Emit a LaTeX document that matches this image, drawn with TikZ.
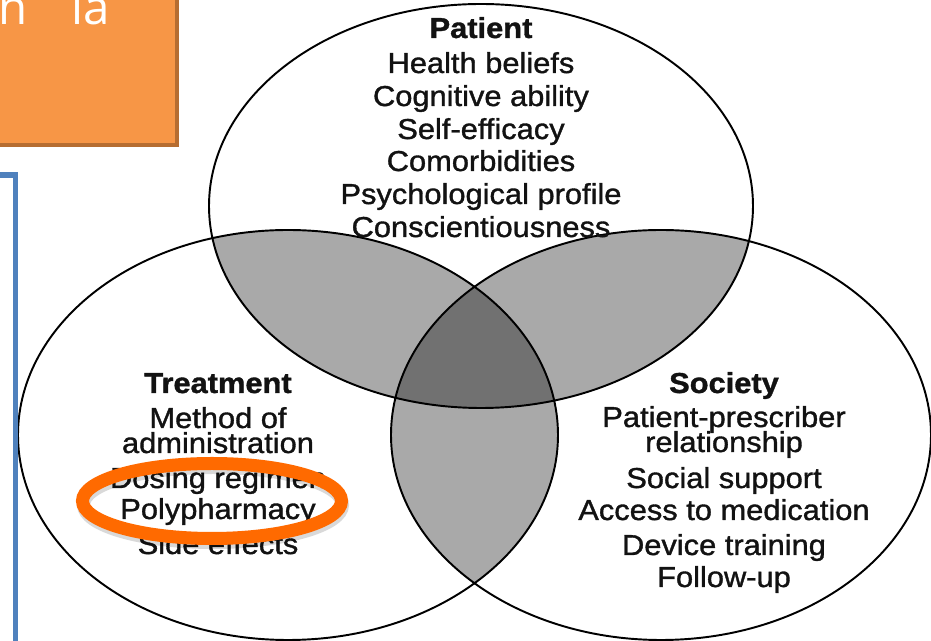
\documentclass[tikz,border=0pt]{standalone}
\usepackage{fontspec}
\setmainfont[FakeStretch=1.07,FakeBold=1.2]{Liberation Sans}
\newfontfamily\slidefont{Open Sans}
\definecolor{lens}{HTML}{A9A9A9}
\definecolor{core}{HTML}{717171}
\definecolor{slideorange}{HTML}{F79646}
\definecolor{slideedge}{HTML}{B66D31}
\definecolor{slideblue}{HTML}{4F81BD}
\definecolor{marker}{HTML}{FF6A00}
% the three sets (pixel grid, y pointing down)
\newcommand\patientset{(481,206) ellipse [x radius=272, y radius=202]}
\newcommand\treatmentset{(288,435) ellipse [x radius=270, y radius=205]}
\newcommand\societyset{(661,435) ellipse [x radius=270, y radius=205]}

\begin{document}
\begin{tikzpicture}[x=0.02cm,y=-0.02cm,
  item/.style={anchor=base,inner sep=0pt,text=black!93,font=\fontsize{16.4}{14}\selectfont},
  head/.style={item,font=\fontsize{16.4}{14}\selectfont\bfseries}]
  \clip (0,0) rectangle (931,641);
  \fill[white] (0,0) rectangle (931,641);
  % pairwise overlaps
  \begin{scope}
    \clip \patientset;
    \fill[lens] \treatmentset;
    \fill[lens] \societyset;
  \end{scope}
  \begin{scope}
    \clip \treatmentset;
    \fill[lens] \societyset;
  \end{scope}
  % all three
  \begin{scope}
    \clip \patientset;
    \clip \treatmentset;
    \fill[core] \societyset;
  \end{scope}
  \draw[line width=1.1pt] \patientset \treatmentset \societyset;
  % labels
  \node[head] (pat) at (481,38) {Patient};
  \foreach \txt/\y [count=\i] in {Health beliefs/73,Cognitive ability/106,Self-efficacy/139,Comorbidities/171,Psychological profile/204,Conscientiousness/237}
    \node[item] (pat\i) at (481,\y) {\txt};
  \node[head] (trt) at (218,393) {Treatment};
  \foreach \txt/\y [count=\i] in {Method of/428,administration/453,Dosing regimen/488,Polypharmacy/519,Side effects/554}
    \node[item] (trt\i) at (218,\y) {\txt};
  \node[head] (soc) at (724,393) {Society};
  \foreach \txt/\y [count=\i] in {Patient-prescriber/427,relationship/452,Social support/488,Access to medication/520,Device training/555,Follow-up/587}
    \node[item] (soc\i) at (724,\y) {\txt};
  % slide furniture
  \draw[slideedge,fill=slideorange,line width=2.3pt] (-10,-10) rectangle (177,145);
  \node[anchor=base west,inner sep=0pt,text=white,font=\slidefont\fontsize{27}{30}\selectfont] (slidetitle) at (-2,25) {n\hspace{25pt}la};
  \draw[slideblue,line width=3pt] (-10,175) rectangle (15.5,700);
  % highlight ring
  \draw[black,opacity=0.15,line width=7.4pt] (213,505) ellipse [x radius=129.5, y radius=37.5];
  \draw[marker,line width=7.4pt] (212,501) ellipse [x radius=129.5, y radius=37.5];
\end{tikzpicture}
\end{document}
